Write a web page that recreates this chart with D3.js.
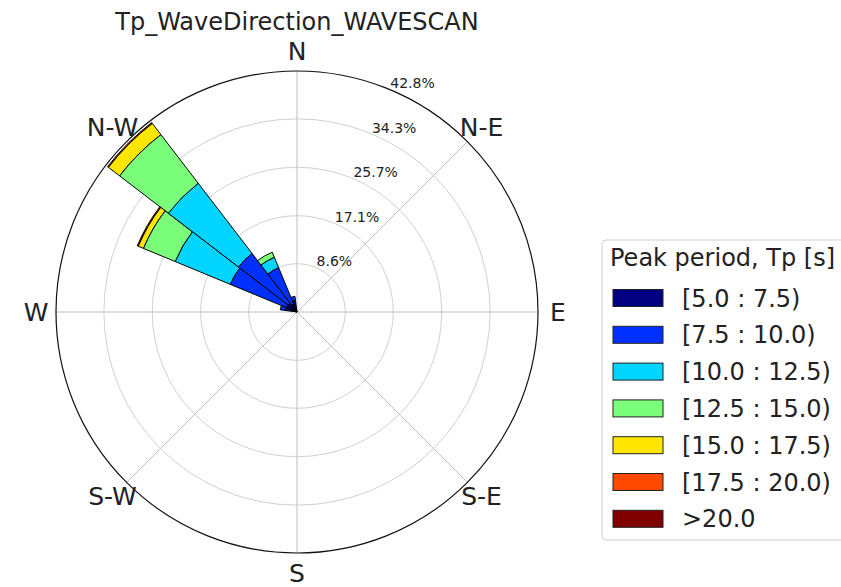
<!DOCTYPE html>
<html>
<head>
<meta charset="utf-8">
<script src="https://cdn.jsdelivr.net/npm/d3@7"></script>
<style>
  body { margin: 0; background: #fff; }
  text { font-family: "DejaVu Sans", sans-serif; fill: #222; }
</style>
</head>
<body>
<div id="rose"></div>
<script>
// sector bearings (deg, clockwise from N), 24 sectors of 15 deg
const sectors = [285, 300, 315, 330, 345];
const binLabels = ["[5.0 : 7.5)", "[7.5 : 10.0)", "[10.0 : 12.5)", "[12.5 : 15.0)",
                   "[15.0 : 17.5)", "[17.5 : 20.0)", ">20.0"];
const binColors = ["#000080", "#0030ff", "#00d4ff", "#7bff7b", "#ffe600", "#ff4800", "#800000"];
// frequency (%) of each Tp bin, one array per sector
const tp_285 = [2.0, 1.0, 0, 0, 0, 0, 0];
const tp_300 = [2.0, 10.8, 10.6, 6.1, 1.0, 0.2, 0];
const tp_315 = [2.0, 11.1, 15.7, 10.9, 2.5, 0.2, 0];
const tp_330 = [1.5, 7.0, 2.0, 1.0, 0, 0, 0];
const tp_345 = [2.0, 0.8, 0, 0, 0, 0, 0];
const rTicks = [8.6, 17.1, 25.7, 34.3, 42.8];
const dirLabels = ["N", "N-E", "E", "S-E", "S", "S-W", "W", "N-W"];

const width = 841, height = 587;
const cx = 297, cy = 312, R = 241;
const sectorWidth = 15;

const svg = d3.select("#rose").append("svg")
  .attr("width", width)
  .attr("height", height);

const r = d3.scaleLinear().domain([0, 42.8]).range([0, R]);
const rad = d => d * Math.PI / 180;

const g = svg.append("g").attr("transform", `translate(${cx},${cy})`);

// grid rings
g.selectAll("circle.ring")
  .data(rTicks.slice(0, -1))
  .enter().append("circle")
  .attr("class", "ring")
  .attr("r", d => r(d))
  .attr("fill", "none")
  .attr("stroke", "#d0d0d0")
  .attr("stroke-width", 1);

// radial lines
g.selectAll("line.spoke")
  .data(d3.range(0, 360, 45))
  .enter().append("line")
  .attr("class", "spoke")
  .attr("x1", 0).attr("y1", 0)
  .attr("x2", d => R * Math.sin(rad(d)))
  .attr("y2", d => -R * Math.cos(rad(d)))
  .attr("stroke", "#c0c0c0")
  .attr("stroke-width", 1);

// petals
const rows = [tp_285, tp_300, tp_315, tp_330, tp_345];
const petals = [];
sectors.forEach((s, i) => {
  let cum = 0;
  rows[i].forEach((v, j) => {
    if (v > 0) petals.push({ dir: s, bin: j, r0: cum, r1: cum + v });
    cum += v;
  });
});

const arc = d3.arc()
  .innerRadius(d => r(d.r0))
  .outerRadius(d => r(d.r1))
  .startAngle(d => rad(d.dir - sectorWidth / 2))
  .endAngle(d => rad(d.dir + sectorWidth / 2));

// draw from outer to inner so black edges of inner pieces stay on top
g.selectAll("path.petal")
  .data(petals.slice().sort((a, b) => b.r1 - a.r1))
  .enter().append("path")
  .attr("class", "petal")
  .attr("d", arc)
  .attr("fill", d => binColors[d.bin])
  .attr("stroke", "#000")
  .attr("stroke-width", 1);

// outer circle
g.append("circle")
  .attr("r", R)
  .attr("fill", "none")
  .attr("stroke", "#111")
  .attr("stroke-width", 1.2);

// radial tick labels at 22.5 deg
g.selectAll("text.rlabel")
  .data(rTicks)
  .enter().append("text")
  .attr("class", "rlabel")
  .attr("x", d => r(d) * Math.sin(rad(22.5)) + 1)
  .attr("y", d => -r(d) * Math.cos(rad(22.5)) - 1)
  .style("font-size", "14px")
  .text(d => d.toFixed(1) + "%");

// direction labels
g.selectAll("text.dir")
  .data(dirLabels)
  .enter().append("text")
  .attr("class", "dir")
  .attr("x", (d, i) => 261 * Math.sin(rad(i * 45)))
  .attr("y", (d, i) => -261 * Math.cos(rad(i * 45)))
  .attr("text-anchor", "middle")
  .attr("dominant-baseline", "central")
  .style("font-size", "25px")
  .text(d => d);

// title
svg.append("text")
  .attr("x", cx)
  .attr("y", 30)
  .attr("text-anchor", "middle")
  .style("font-size", "24px")
  .text("Tp_WaveDirection_WAVESCAN");

// legend
const lg = svg.append("g").attr("transform", "translate(602,240)");
lg.append("rect")
  .attr("width", 260).attr("height", 300)
  .attr("rx", 4)
  .attr("fill", "#fff")
  .attr("stroke", "#d0d0d0");
lg.append("text")
  .attr("x", 8).attr("y", 26)
  .style("font-size", "24px")
  .text("Peak period, Tp [s]");
const item = lg.selectAll("g.item")
  .data(binLabels)
  .enter().append("g")
  .attr("class", "item")
  .attr("transform", (d, i) => `translate(11,${49.5 + i * 36.8})`);
item.append("rect")
  .attr("width", 50).attr("height", 17)
  .attr("fill", (d, i) => binColors[i])
  .attr("stroke", "#222");
item.append("text")
  .attr("x", 69).attr("y", 17)
  .style("font-size", "24px")
  .text(d => d);
</script>
</body>
</html>
